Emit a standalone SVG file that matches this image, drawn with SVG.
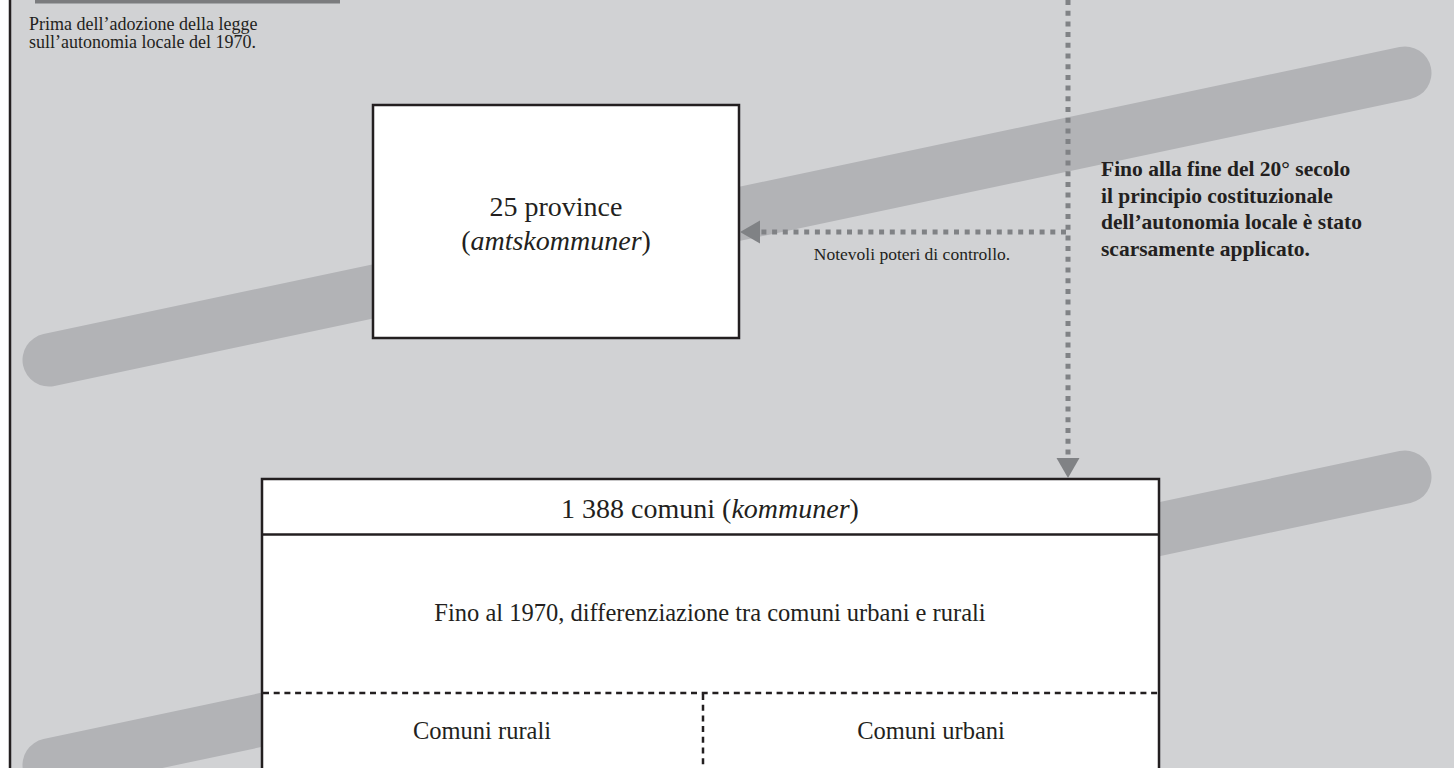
<svg xmlns="http://www.w3.org/2000/svg" width="1454" height="768" viewBox="0 0 1454 768">
<style>
text{font-family:"Liberation Serif","Times New Roman",serif;fill:#231f20}
.band{stroke:#b2b3b6;stroke-width:53;stroke-linecap:round;fill:none}
.box{fill:#fff;stroke:#231f20;stroke-width:2.5}
.conn{stroke:#808285;stroke-width:5;stroke-dasharray:5 5.7;fill:none}
.dash{stroke:#231f20;stroke-width:2.5;stroke-dasharray:6 4.7;fill:none}
.big{font-size:28px;text-anchor:middle}
.mid{font-size:24.5px;text-anchor:middle}
.small{font-size:18px}
.bold{font-size:21.5px;font-weight:bold}
.it{font-style:italic}
</style>
<defs>
<marker id="ah" markerUnits="userSpaceOnUse" markerWidth="21" markerHeight="24" refX="0" refY="11.5" orient="auto">
<path d="M0,0 L20,11.5 L0,23 z" fill="#808285"/>
</marker>
</defs>
<rect x="0" y="0" width="1454" height="768" fill="#fff"/>
<rect x="10" y="0" width="1444" height="768" fill="#d1d2d4"/>
<line x1="10" y1="0" x2="10" y2="768" stroke="#231f20" stroke-width="2.5"/>
<rect x="35" y="0" width="305" height="3.5" fill="#7b7c7e"/>
<g id="bands">
<line class="band" x1="49" y1="360" x2="1405" y2="73"/>
<line class="band" x1="49" y1="765" x2="1405" y2="477"/>
</g>
<g id="note-left">
<text class="small" x="29" y="30">Prima dell’adozione della legge</text>
<text class="small" x="29" y="48">sull’autonomia locale del 1970.</text>
</g>
<g id="note-right">
<text class="bold" x="1101" y="176">Fino alla fine del 20° secolo</text>
<text class="bold" x="1101" y="203">il principio costituzionale</text>
<text class="bold" x="1101" y="229">dell’autonomia locale è stato</text>
<text class="bold" x="1101" y="256">scarsamente applicato.</text>
</g>
<g id="province">
<rect class="box" x="373" y="105" width="366" height="233"/>
<text class="big" x="556" y="216">25 province</text>
<text class="big" x="556" y="250">(<tspan class="it">amtskommuner</tspan>)</text>
</g>
<g id="comuni">
<rect class="box" x="262" y="479" width="897" height="310"/>
<line x1="262" y1="534.5" x2="1159" y2="534.5" stroke="#231f20" stroke-width="2.5"/>
<text class="big" x="710" y="518">1 388 comuni (<tspan class="it">kommuner</tspan>)</text>
<text class="mid" x="710" y="621">Fino al 1970, differenziazione tra comuni urbani e rurali</text>
<line class="dash" x1="263" y1="693" x2="1158" y2="693"/>
<line class="dash" x1="703" y1="694" x2="703" y2="768"/>
<text class="mid" x="482" y="739">Comuni rurali</text>
<text class="mid" x="931" y="739">Comuni urbani</text>
</g>
<g id="connectors">
<path class="conn" d="M1068,0 V458" marker-end="url(#ah)"/>
<path class="conn" d="M1066,232 H760" marker-end="url(#ah)"/>
<text x="912" y="260" font-size="17.5" text-anchor="middle">Notevoli poteri di controllo.</text>
</g>
</svg>
